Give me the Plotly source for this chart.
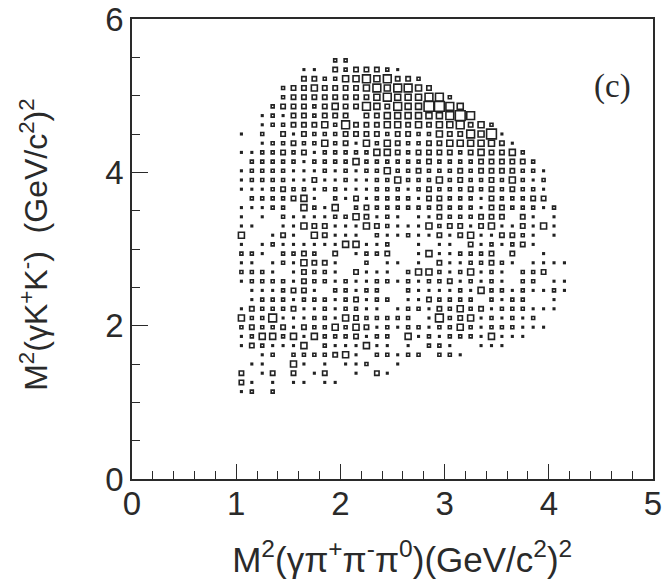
import plotly.graph_objects as go

# Bin geometry of the 2D histogram
x_bin_width = 0.1
y_bin_width = 0.12
first_column = 10

# Box-size level per bin, one list per row, starting at column 10 (x = 1.0)
row_45 = [0,0,0,0,0,0,0,0,0,2,2]
row_44 = [0,0,0,0,0,0,1,1,0,3,2,3,3,3,2,1]
row_43 = [0,0,0,0,0,0,3,3,2,2,4,4,5,4,5,3,3,2]
row_42 = [0,0,0,0,2,3,3,4,3,3,3,3,4,5,4,5,5,4,3]
row_41 = [0,0,0,0,2,3,3,3,3,3,3,3,3,4,5,4,4,4,5,5,2]
row_40 = [0,0,0,2,3,3,3,2,3,4,3,3,5,4,3,5,4,4,6,6,5,4]
row_39 = [0,0,1,2,1,3,3,2,3,3,3,0,3,3,4,4,4,4,4,4,5,6,5]
row_38 = [0,0,1,2,2,3,3,3,4,2,5,3,3,3,4,4,3,4,3,4,4,5,3,4,2]
row_37 = [1,0,2,0,3,1,3,2,2,2,3,3,3,3,2,3,3,2,2,4,3,3,5,4,6,1]
row_36 = [0,0,1,2,2,3,2,2,4,2,3,1,4,2,4,3,2,2,3,3,4,4,4,4,4,3,1]
row_35 = [1,1,2,2,3,2,3,1,2,2,2,2,2,4,4,3,2,3,3,3,3,2,3,4,3,3,4,2]
row_34 = [0,2,2,2,2,2,1,2,2,2,2,4,2,2,2,2,2,2,3,2,2,2,2,3,3,3,3,3,2]
row_33 = [1,2,2,2,2,1,1,1,2,1,2,1,2,2,4,2,2,3,2,2,2,3,2,3,3,3,3,2,2,1]
row_32 = [1,2,2,2,2,1,1,3,1,1,2,1,1,2,2,4,2,2,2,4,2,3,2,2,3,2,4,2,1,2]
row_31 = [1,1,1,2,3,2,2,1,2,2,1,1,1,2,2,2,1,2,3,2,2,2,3,2,3,2,3,2,2,1]
row_30 = [0,2,2,2,2,3,4,1,0,2,1,3,1,2,2,2,2,1,3,3,2,2,2,1,3,2,2,2,3,3]
row_29 = [1,1,1,2,2,0,4,2,1,4,0,2,3,2,2,2,2,2,2,3,2,2,2,1,3,3,2,2,2,1,2]
row_28 = [1,0,1,0,2,1,1,1,1,2,2,4,3,1,2,1,0,1,1,3,2,2,2,3,3,3,0,3,1,0,1]
row_27 = [1,1,0,0,1,1,4,3,3,1,1,1,4,3,2,1,1,1,4,2,3,3,1,3,4,1,1,3,1,4,1]
row_26 = [4,0,0,1,3,1,0,4,3,1,1,1,0,2,1,1,2,1,1,3,1,3,4,1,1,3,3,2,1,0,1]
row_25 = [1,0,1,2,1,1,1,1,1,1,4,4,1,1,2,0,0,1,0,1,1,0,3,1,2,1,2,3,1]
row_24 = [2,2,1,0,2,2,3,2,0,3,0,1,2,2,3,0,0,1,4,1,1,2,2,2,3,0,3,0,0,1]
row_23 = [1,1,0,1,2,1,4,3,3,1,0,0,2,0,1,1,0,1,0,3,1,1,2,2,3,2,1,0,1,1,1,1]
row_22 = [2,2,2,1,0,1,3,2,2,1,0,3,1,1,1,0,2,4,4,2,1,2,4,1,2,1,0,2,2,3]
row_21 = [1,2,2,2,2,1,3,2,2,1,2,1,1,2,2,1,2,1,2,2,3,1,2,1,2,1,0,2,2,0,1,1]
row_20 = [0,1,1,1,2,3,3,1,0,2,2,1,2,2,0,0,2,1,1,1,1,2,1,4,2,2,1,2,1,1,2,1]
row_19 = [0,1,2,2,2,1,2,2,2,1,2,3,1,2,2,0,1,1,3,2,2,2,2,0,2,1,2,2,0,0,1]
row_18 = [1,3,2,2,2,3,1,1,2,1,2,2,1,1,0,1,2,2,1,3,2,4,2,3,1,2,2,2,1,1,1]
row_17 = [4,2,2,5,1,1,1,2,2,1,4,3,2,2,2,2,2,0,1,5,2,3,4,1,2,1,2,1,2]
row_16 = [2,3,2,2,3,1,3,2,2,4,2,4,3,1,2,1,2,2,1,2,2,4,2,1,2,2,2,1,1,1]
row_15 = [1,2,4,4,2,4,1,4,2,2,2,3,1,2,2,0,4,1,2,1,2,2,2,1,4,1,1,1]
row_14 = [1,3,2,1,1,1,4,0,2,1,1,1,4,1,1,0,1,0,2,2,1,0,0,1,1,1]
row_13 = [0,0,1,2,0,2,2,2,2,3,4,1,0,2,2,1,2,2,0,2,2,1]
row_12 = [0,1,1,0,0,4,1,0,1,0,1,1,2,0,0,1]
row_11 = [3,0,1,3,0,3,0,1,3,0,0,1,0,3,1]
row_10 = [3,1,0,1,0,1,1,0,1,1]
row_09 = [1,2,0,2]

rows = {
    45: row_45, 44: row_44, 43: row_43, 42: row_42, 41: row_41, 40: row_40, 39: row_39,
    38: row_38, 37: row_37, 36: row_36, 35: row_35, 34: row_34, 33: row_33, 32: row_32,
    31: row_31, 30: row_30, 29: row_29, 28: row_28, 27: row_27, 26: row_26, 25: row_25,
    24: row_24, 23: row_23, 22: row_22, 21: row_21, 20: row_20, 19: row_19, 18: row_18,
    17: row_17, 16: row_16, 15: row_15, 14: row_14, 13: row_13, 12: row_12, 11: row_11,
    10: row_10, 9: row_09,
}

x_tick_labels = ["0", "1", "2", "3", "4", "5"]
y_tick_labels = ["0", "2", "4", "6"]

INK = "#222222"
LEVEL_SIZE = {1: 1.5, 2: 3.0, 3: 4.4, 4: 6.0, 5: 7.8, 6: 9.8}

xs, ys, sizes = [], [], []
for j, row in rows.items():
    for i, level in enumerate(row):
        if level:
            xs.append((first_column + i + 0.5) * x_bin_width)
            ys.append((j + 0.5) * y_bin_width)
            sizes.append(LEVEL_SIZE[level])

fig = go.Figure(go.Scatter(
    x=xs, y=ys, mode="markers", hoverinfo="skip",
    marker=dict(symbol="square-open", size=sizes, color=INK, opacity=1,
                line=dict(color=INK, width=1.6)),
))

FONT = "Liberation Sans, Arial, sans-serif"


def axis(title, title_size, standoff, lim, major, minor, labels, ticklen, label_shift):
    return dict(
        title=dict(text=title, standoff=standoff, font=dict(family=FONT, size=title_size, color="#2a2a2a")),
        automargin=False,
        range=lim, autorange=False, showgrid=False, zeroline=False,
        showline=True, mirror=True, linecolor="#2a2a2a", linewidth=1.5,
        ticks="inside", ticklen=ticklen, tickwidth=1, tickcolor="#2a2a2a",
        tickmode="array",
        tickvals=[i * major for i in range(len(labels))], ticktext=labels,
        minor=dict(ticks="inside", ticklen=8, tickwidth=1, tickcolor="#2a2a2a", dtick=minor, tick0=0, showgrid=False),
        tickfont=dict(family=FONT, size=33, color="#2a2a2a"),
        ticklabelstandoff=label_shift,
    )


fig.update_layout(
    width=663, height=579, autosize=False,
    margin=dict(l=132, r=10, t=19, b=100),
    paper_bgcolor="white", plot_bgcolor="white", showlegend=False,
    xaxis=axis("&nbsp;&nbsp;M<sup>2</sup>(γπ<sup>+</sup>π<sup>-</sup>π<sup>0</sup>)(GeV/c<sup>2</sup>)<sup>2</sup>",
               35, 26, [0, 5], 1, 0.2, x_tick_labels, 15, -5),
    yaxis=axis("&nbsp;M<sup>2</sup>(γK<sup>+</sup>K<sup>-</sup>)  (GeV/c<sup>2</sup>)<sup>2</sup>",
               32, 48, [0, 6], 2, 0.5, y_tick_labels, 16, 0),
    annotations=[dict(text="(c)", x=4.61, y=5.12, xref="x", yref="y", showarrow=False,
                      font=dict(family="Liberation Serif, serif", size=33, color="#2a2a2a"))],
)

fig.write_html("out.html", config={"displayModeBar": False},
               post_script="document.body.style.margin='0';")
